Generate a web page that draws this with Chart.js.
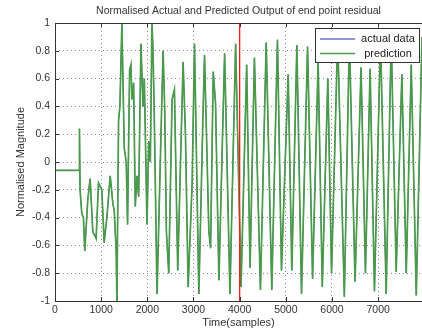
<!DOCTYPE html>
<html>
<head>
<meta charset="utf-8">
<script src="https://cdn.jsdelivr.net/npm/chart.js@4.4.1/dist/chart.umd.min.js"></script>
<style>
  html,body{margin:0;padding:0;background:#fff;}
  #wrap{width:422px;height:334px;}
</style>
</head>
<body>
<div id="wrap"><canvas id="chart" width="422" height="334"></canvas></div>
<script>
/* ===== Data ===== */
const TITLE   = 'Normalised Actual and Predicted Output of end point residual';
const X_LABEL = 'Time(samples)';
const Y_LABEL = 'Normalised Magnitude';

const xTicks      = [0, 1000, 2000, 3000, 4000, 5000, 6000, 7000];
const yTicks      = [-1, -0.8, -0.6, -0.4, -0.2, 0, 0.2, 0.4, 0.6, 0.8, 1];
const yTickLabels = ['-1', '-0.8', '-0.6', '-0.4', '-0.2', '0', '0.2', '0.4', '0.6', '0.8', '1'];

// turning points (sample index / normalised value)
const samples = [
  0, 528, 530, 543, 580, 616, 645, 710, 761, 819, 891, 942, 1014, 1065, 1123, 1196, 1254, 1283, 1326, 1341,
  1377, 1406, 1449, 1500, 1543, 1572, 1616, 1645, 1667, 1703, 1739, 1775, 1812, 1862, 1906, 1935, 1993, 2030, 2065, 2101,
  2123, 2145, 2210, 2341, 2377, 2413, 2464, 2536, 2587, 2659, 2775, 2826, 2884, 2971, 3022, 3116, 3203, 3239, 3333, 3370,
  3428, 3478, 3551, 3674, 3790, 3913, 4030, 4152, 4225, 4320, 4450, 4575, 4696, 4819, 4906, 5051, 5130, 5239, 5340, 5471,
  5580, 5700, 5790, 5910, 5990, 6123, 6268, 6377, 6500, 6630, 6725, 6826, 6920, 7051, 7174, 7283, 7391, 7514, 7609, 7717,
  7826, 7950, 8000
];
const predicted = [
  -0.06, -0.06, 0.24, -0.2, -0.37, -0.4, -0.64, -0.27, -0.12, -0.5, -0.55, -0.15, -0.2, -0.58, -0.4, -0.1, -0.3, -0.35, -0.65, -1.0,
  0.3, 0.4, 1.0, 0.1, 0.0, -0.45, 0.66, 0.7, 0.45, 0.57, -0.32, -0.1, -0.25, 0.85, 0.4, 0.6, -0.45, 0.15, 0.0, 1.0,
  0.8, 0.45, -0.95, 0.8, 0.38, -0.5, -0.8, 0.45, 0.52, -0.78, 0.72, 0.2, -0.9, -0.15, 0.85, -0.95, 0.3, 0.77, -0.5, -0.62,
  0.65, 0.42, -0.85, 0.78, -0.95, 0.85, -0.9, 0.7, -0.76, 0.75, -0.92, 0.86, -0.92, 0.88, -0.78, 0.63, -0.78, 0.84, -0.95, 0.83,
  -0.84, 0.72, -0.9, 0.6, -0.8, 0.9, -0.97, 0.9, -0.86, 0.68, -0.8, 0.67, -0.93, 0.9, -0.95, 0.9, -0.79, 0.63, -0.8, 0.7,
  -0.96, 0.9, 0.3
];
// actual data lies underneath the prediction at this scale
const actual = predicted;
const splitSample = 4000;

/* ===== Style ===== */
const FONT = 'Liberation Sans, Arial, sans-serif';
const TXT  = '#333';
const C_ACTUAL = '#6f6fd2';
const C_PRED   = '#4a9a4a';
const C_SPLIT  = '#ff1a1a';

const pts = (xs, ys)=> xs.map((x,i)=> ({x, y:ys[i]}));

/* ===== Frame, title + legend (MATLAB look) ===== */
const frame = {
  id:'frame',
  afterDraw(chart){
    const {ctx, chartArea:a, scales:{x, y}} = chart;
    ctx.save();

    // title centred over the axes box
    ctx.font = '10.5px ' + FONT;
    ctx.fillStyle = TXT;
    ctx.textAlign = 'center';
    ctx.textBaseline = 'middle';
    ctx.fillText(TITLE, (a.left + a.right)/2, 11.5);

    ctx.strokeStyle = '#333';
    ctx.lineWidth = 1;
    ctx.beginPath();
    ctx.moveTo(a.left+0.5, a.bottom+0.5); ctx.lineTo(a.left+0.5, a.top+0.5); ctx.lineTo(a.right, a.top+0.5);
    ctx.moveTo(a.left, a.bottom+0.5); ctx.lineTo(a.right, a.bottom+0.5);
    // inward ticks
    xTicks.forEach(v=>{
      const px = Math.round(x.getPixelForValue(v))+0.5;
      ctx.moveTo(px, a.bottom); ctx.lineTo(px, a.bottom-4);
      ctx.moveTo(px, a.top);    ctx.lineTo(px, a.top+4);
    });
    yTicks.forEach(v=>{
      const py = Math.round(y.getPixelForValue(v))+0.5;
      ctx.moveTo(a.left, py); ctx.lineTo(a.left+4, py);
    });
    ctx.stroke();

    // legend
    const ds = chart.data.datasets.slice(0,2);
    const w = 105, h = 35;
    const lx = a.right - 2 - w, ly = a.top + 5;
    ctx.fillStyle = '#fff';
    ctx.fillRect(lx, ly, w, h);
    ctx.strokeStyle = '#333';
    ctx.strokeRect(lx+0.5, ly+0.5, w-1, h-1);
    ctx.font = '11px ' + FONT;
    ds.forEach((d,i)=>{
      const ry = ly + 11 + i*14.5;
      ctx.strokeStyle = d.borderColor;
      ctx.lineWidth = 1.5;
      ctx.beginPath(); ctx.moveTo(lx+5, ry); ctx.lineTo(lx+40, ry); ctx.stroke();
      ctx.fillStyle = '#222';
      ctx.fillText(d.label, lx+73, ry);
    });
    ctx.restore();
  }
};

/* ===== Chart ===== */
new Chart(document.getElementById('chart'), {
  type:'line',
  data:{ datasets:[
    { label:'actual data', data:pts(samples, actual),    borderColor:C_ACTUAL, borderWidth:1,   pointRadius:0, tension:0, order:3 },
    { label:'prediction',  data:pts(samples, predicted), borderColor:C_PRED,   borderWidth:1.7, pointRadius:0, tension:0, order:2 },
    { label:'split', data:[{x:splitSample, y:-1}, {x:splitSample, y:1}], borderColor:C_SPLIT, borderWidth:1.3, pointRadius:0, order:0 }
  ]},
  options:{
    responsive:false,
    animation:false,
    layout:{ padding:{ top:23, left:0, right:0, bottom:0 } },
    plugins:{
      legend:{ display:false },
      tooltip:{ enabled:false },
      title:{ display:false }
    },
    scales:{
      x:{
        type:'linear', min:0, max:7950,
        afterBuildTicks(s){ s.ticks = xTicks.map(v=>({value:v})); },
        afterFit(s){ s.height = 33; },
        ticks:{ color:TXT, font:{family:FONT, size:10.5}, padding:3, maxRotation:0, autoSkip:false, callback:(v)=> String(v) },
        grid:{ color:'#8c8c8c', lineWidth:1, drawTicks:false },
        border:{ display:false, dash:[1,3] },
        title:{ display:true, text:X_LABEL, color:TXT, font:{family:FONT, size:11}, padding:{top:0, bottom:4.4} }
      },
      y:{
        type:'linear', min:-1, max:1,
        afterBuildTicks(s){ s.ticks = yTicks.map(v=>({value:v})); },
        afterFit(s){ s.width = 55; },
        ticks:{ color:TXT, font:{family:FONT, size:10.5}, padding:5, autoSkip:false, callback:(v,i)=> yTickLabels[i] },
        grid:{ color:'#8c8c8c', lineWidth:1, drawTicks:false },
        border:{ display:false, dash:[1,3] },
        title:{ display:true, text:Y_LABEL, color:TXT, font:{family:FONT, size:11}, padding:{top:14, bottom:0} }
      }
    }
  },
  plugins:[frame]
});
</script>
</body>
</html>
